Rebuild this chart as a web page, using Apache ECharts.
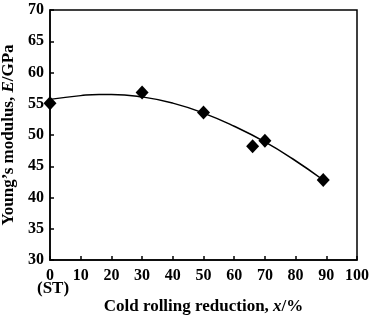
<!DOCTYPE html>
<html>
<head>
<meta charset="utf-8">
<script src="https://cdn.jsdelivr.net/npm/echarts@6/dist/echarts.min.js"></script>
<style>
  html, body { margin: 0; padding: 0; background: #fff; }
  #chart { width: 370px; height: 318px; }
</style>
</head>
<body>
<div id="chart"></div>
<script>
// measured points (cold rolling reduction %, Young's modulus GPa)
const reduction = [0, 30, 50, 66, 70, 89];
const modulus = [55.1, 56.8, 53.6, 48.2, 49.1, 42.8];

// fitted curve
const curveX = [0, 10, 16, 20, 30, 40, 50, 60, 70, 79, 89];
const curveY = [55.7, 56.3, 56.5, 56.5, 56.1, 55.1, 53.5, 51.4, 48.9, 46.2, 42.8];

const xTicks = [0, 10, 20, 30, 40, 50, 60, 70, 80, 90, 100];
const yTicks = [30, 35, 40, 45, 50, 55, 60, 65, 70];

const font = '"Liberation Serif", "DejaVu Serif", serif';

const chart = echarts.init(document.getElementById('chart'));

const titleRich = {
  t: { fontFamily: font, fontWeight: 'bold', fontSize: 17, color: '#000' },
  i: { fontFamily: font, fontWeight: 'bold', fontStyle: 'italic', fontSize: 17, color: '#000' }
};

const option = {
  animation: false,
  grid: {
    left: 50, top: 10, width: 307, height: 250,
    outerBoundsMode: 'none', containLabel: false,
    show: true, borderColor: '#000', borderWidth: 1.5, backgroundColor: 'transparent'
  },
  xAxis: {
    type: 'value',
    min: xTicks[0], max: xTicks[xTicks.length - 1], interval: 10,
    name: '{t|Cold rolling reduction, }{i|x}{t|/%}',
    nameLocation: 'middle',
    nameGap: 38,
    nameTextStyle: { rich: titleRich },
    axisLine: { lineStyle: { color: '#000', width: 1.5 } },
    axisTick: { inside: true, length: 4, lineStyle: { color: '#000', width: 1.5 } },
    axisLabel: { fontFamily: font, fontWeight: 'bold', fontSize: 16, color: '#000', margin: 8 },
    splitLine: { show: false }
  },
  yAxis: {
    type: 'value',
    min: yTicks[0], max: yTicks[yTicks.length - 1], interval: 5,
    name: '{t|Young\u2019s modulus, }{i|E}{t|/GPa}',
    nameLocation: 'middle',
    nameGap: 30,
    nameTextStyle: { rich: titleRich },
    axisLine: { lineStyle: { color: '#000', width: 1.5 } },
    axisTick: { inside: true, length: 4, lineStyle: { color: '#000', width: 1.5 } },
    axisLabel: { fontFamily: font, fontWeight: 'bold', fontSize: 16, color: '#000', margin: 6 },
    splitLine: { show: false }
  },
  graphic: [{
    type: 'text',
    left: 37, top: 280,
    style: { text: '(ST)', font: 'bold 17px ' + font, fill: '#000' }
  }],
  series: [
    {
      type: 'line',
      data: curveX.map((x, i) => [x, curveY[i]]),
      smooth: true,
      showSymbol: false,
      lineStyle: { color: '#000', width: 1.5 },
      z: 2
    },
    {
      type: 'scatter',
      data: reduction.map((x, i) => [x, modulus[i]]),
      symbol: 'diamond',
      symbolSize: [13, 14],
      itemStyle: { color: '#000', opacity: 1 },
      z: 3
    }
  ]
};

chart.setOption(option);
</script>
</body>
</html>
